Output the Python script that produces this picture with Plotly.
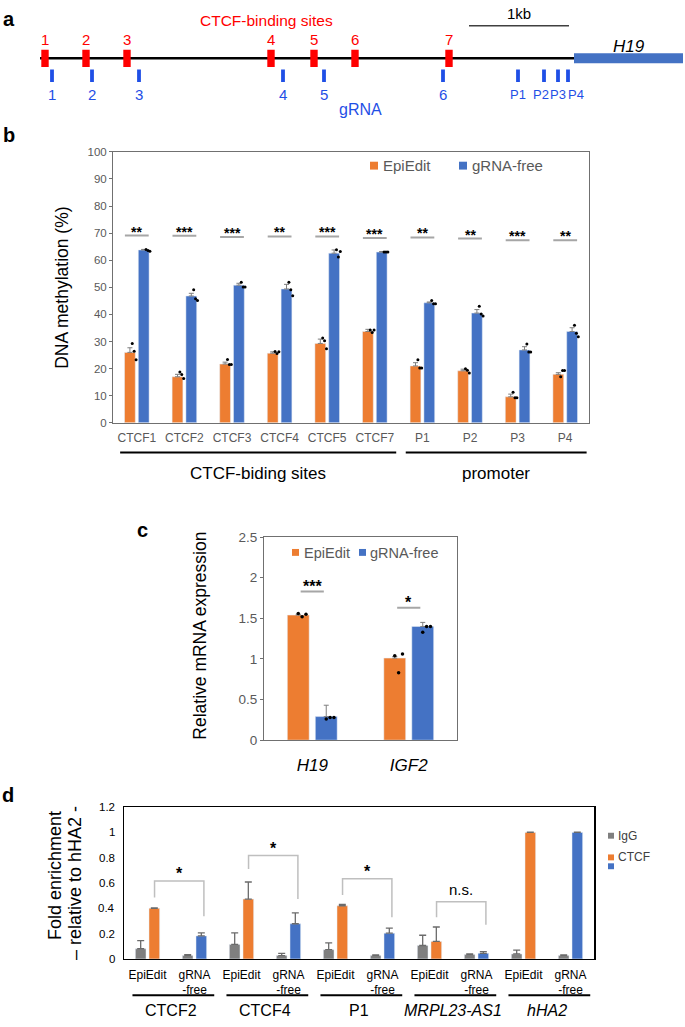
import plotly.graph_objects as go

W, H = 685, 1027
def PX(x): return x / W
def PY(y): return 1 - y / H

FONT = "Arial, 'Liberation Sans', sans-serif"
ORANGE = "#ED7D31"
BLUE = "#4472C4"
GRAY = "#7F7F7F"
TXTGRAY = "#595959"
RED = "#FF0000"
GBLUE = "#1F4FE6"
SIGGRAY = "#A6A6A6"

# ---------------- Panel a data (positions in kb along the locus) ----------------
ctcf_site_labels = ["1", "2", "3", "4", "5", "6", "7"]
ctcf_site_kb = [0.05, 0.46, 0.87, 2.31, 2.74, 3.15, 4.09]
grna_labels = ["1", "2", "3", "4", "5", "6", "P1", "P2", "P3", "P4"]
grna_kb = [0.12, 0.52, 0.99, 2.43, 2.84, 4.03, 4.78, 5.04, 5.18, 5.28]
h19_start_kb = 5.34
h19_end_kb = 6.43
scale_bar_start_kb = 4.29
scale_bar_len_kb = 1.0

# ---------------- Panel b data ----------------
meth_categories = ["CTCF1", "CTCF2", "CTCF3", "CTCF4", "CTCF5", "CTCF7", "P1", "P2", "P3", "P4"]
meth_epiedit = [26.0, 17.0, 21.7, 25.7, 29.3, 33.7, 21.0, 19.2, 9.6, 17.9]
meth_epiedit_err = [1.7, 0.9, 0.7, 0.5, 1.6, 0.8, 1.2, 0.6, 1.0, 0.6]
meth_grnafree = [63.8, 46.8, 50.8, 49.4, 62.6, 63.0, 44.3, 40.5, 26.9, 33.7]
meth_grnafree_err = [0.2, 1.0, 0.7, 1.7, 1.2, 0.2, 0.3, 1.3, 1.2, 1.4]
meth_epiedit_reps = [[29.3, 26.4, 23.3], [18.8, 17.8, 16.4], [23.4, 21.5, 21.5], [26.3, 25.6, 26.2],
                     [31.3, 30.3, 27.3], [34.3, 33.3, 34.3], [23.3, 20.2, 20.2], [20.0, 19.4, 18.4],
                     [11.3, 9.3, 9.3], [17.0, 19.3, 19.3]]
meth_grnafree_reps = [[64.0, 63.6, 63.3], [49.1, 45.8, 45.1], [51.9, 50.1, 50.1], [51.9, 49.1, 46.9],
                      [63.9, 61.2, 63.2], [63.0, 63.0, 63.0], [45.1, 43.9, 43.9], [43.0, 40.2, 39.4],
                      [29.1, 26.1, 26.1], [36.0, 33.1, 31.8]]
meth_sig = ["**", "***", "***", "**", "***", "***", "**", "**", "***", "**"]
meth_sig_y = [69.1, 69.0, 68.6, 68.8, 68.8, 68.2, 68.4, 68.0, 67.4, 67.4]
meth_groups = ["CTCF-biding sites", "promoter"]
meth_group_span = [(0, 5), (6, 9)]

# ---------------- Panel c data ----------------
expr_genes = ["H19", "IGF2"]
expr_epiedit = [1.54, 1.01]
expr_epiedit_err = [0.01, 0.02]
expr_grnafree = [0.29, 1.40]
expr_grnafree_err = [0.14, 0.05]
expr_epiedit_reps = [[1.56, 1.52, 1.55], [1.04, 0.83, 1.06]]
expr_grnafree_reps = [[0.26, 0.28, 0.28], [1.33, 1.40, 1.40]]
expr_sig = ["***", "*"]
expr_sig_y = [1.83, 1.63]

# ---------------- Panel d data ----------------
chip_targets = ["CTCF2", "CTCF4", "P1", "MRPL23-AS1", "hHA2"]
chip_target_italic = [False, False, False, True, True]
chip_conditions = ["EpiEdit", "gRNA<br>-free"]
chip_igg = [0.080, 0.026, 0.114, 0.026, 0.073, 0.026, 0.106, 0.034, 0.039, 0.026]
chip_igg_err = [0.065, 0.008, 0.091, 0.018, 0.054, 0.006, 0.081, 0.006, 0.031, 0.006]
chip_ctcf = [0.400, 0.182, 0.473, 0.278, 0.420, 0.203, 0.138, 0.044, 1.000, 1.000]
chip_ctcf_err = [0.004, 0.023, 0.135, 0.086, 0.010, 0.041, 0.114, 0.013, 0.003, 0.003]
chip_sig = ["*", "*", "*", "n.s."]
chip_sig_top = [0.616, 0.818, 0.634, 0.452]
chip_sig_left_bottom = [0.486, 0.710, 0.506, 0.330]
chip_sig_right_bottom = [0.338, 0.473, 0.330, 0.270]
chip_ymax = 1.2
chip_yticks = [0, 0.2, 0.4, 0.6, 0.8, 1, 1.2]
chip_yticklabels = ["0", "0.2", "0.4", "0.6", "0.8", "1", "1.2"]

# ---------------- figure ----------------
fig = go.Figure()
BARGAP, GROUPGAP = 0.42, 0.22
slot = (1 - BARGAP) / 2
off = slot / 2  # centre offset of each bar in a pair
err_style = dict(type="data", symmetric=False, color=GRAY, thickness=1, width=2.5)

def reps_xy(reps, centre_shift, dxs):
    xs, ys = [], []
    for i, r in enumerate(reps):
        for k, v in enumerate(r):
            xs.append(i + centre_shift + dxs[k])
            ys.append(v)
    return xs, ys

# ---- b ----
nb = len(meth_categories)
ib = list(range(nb))
fig.add_bar(x=ib, y=meth_epiedit, marker_color=ORANGE, name="EpiEdit", xaxis="x", yaxis="y",
            error_y=dict(array=meth_epiedit_err, arrayminus=[0] * nb, **err_style))
fig.add_bar(x=ib, y=meth_grnafree, marker_color=BLUE, name="gRNA-free", xaxis="x", yaxis="y",
            error_y=dict(array=meth_grnafree_err, arrayminus=[0] * nb, **err_style))
dxb = [0.05, 0.09, 0.13]
for reps, sh in ((meth_epiedit_reps, -off), (meth_grnafree_reps, off)):
    xs, ys = reps_xy(reps, sh, dxb)
    fig.add_scatter(x=xs, y=ys, mode="markers", marker=dict(color="black", size=3),
                    xaxis="x", yaxis="y", showlegend=False)

# ---- c ----
nc = len(expr_genes)
ic = list(range(nc))
fig.add_bar(x=ic, y=expr_epiedit, marker_color=ORANGE, xaxis="x2", yaxis="y2",
            error_y=dict(array=expr_epiedit_err, arrayminus=[0] * nc, **err_style))
fig.add_bar(x=ic, y=expr_grnafree, marker_color=BLUE, xaxis="x2", yaxis="y2",
            error_y=dict(array=expr_grnafree_err, arrayminus=[0] * nc, **err_style))
dxc = [0.0, 0.04, 0.08]
for reps, sh in ((expr_epiedit_reps, -off), (expr_grnafree_reps, off)):
    xs, ys = reps_xy(reps, sh, dxc)
    fig.add_scatter(x=xs, y=ys, mode="markers", marker=dict(color="black", size=3.5),
                    xaxis="x2", yaxis="y2", showlegend=False)

# ---- d ----
nd = len(chip_igg)
idd = list(range(nd))
chip_colors = [ORANGE if i % 2 == 0 else BLUE for i in idd]
err_d = dict(type="data", symmetric=False, color="#6b6b6b", thickness=1.3, width=3.5)
fig.add_bar(x=idd, y=chip_igg, marker_color=GRAY, xaxis="x3", yaxis="y3",
            error_y=dict(array=chip_igg_err, arrayminus=[0] * nd, **err_d))
fig.add_bar(x=idd, y=chip_ctcf, marker_color=chip_colors, xaxis="x3", yaxis="y3",
            error_y=dict(array=chip_ctcf_err, arrayminus=[0] * nd, **err_d))

shapes = []
ann = []

def text(x, y, s, size, color="black", xref="paper", yref="paper", xanchor="center",
         yanchor="middle", angle=0, yshift=0, bold=False):
    ann.append(dict(x=x, y=y, xref=xref, yref=yref, text=(f"<b>{s}</b>" if bold else s),
                    showarrow=False, xanchor=xanchor, yanchor=yanchor, textangle=angle,
                    yshift=yshift, font=dict(family=FONT, size=size, color=color)))

# ---- panel a drawing ----
shapes.append(dict(type="line", xref="x4", yref="y4", x0=0, x1=h19_start_kb, y0=52, y1=52,
                   line=dict(color="black", width=2.5)))
shapes.append(dict(type="rect", xref="x4", yref="y4", x0=h19_start_kb, x1=h19_end_kb, y0=47, y1=57,
                   fillcolor=BLUE, line=dict(width=0)))
for lab, kb in zip(ctcf_site_labels, ctcf_site_kb):
    shapes.append(dict(type="rect", xref="x4", yref="y4", x0=kb - 0.037, x1=kb + 0.037, y0=43.5, y1=61,
                       fillcolor=RED, line=dict(width=0)))
    text(kb, 33, lab, 15, RED, "x4", "y4")
grna_label_shift = [0, 0, 0, 0, 0, 0, 0, -0.03, 0, 0.08]
for lab, kb, s in zip(grna_labels, grna_kb, grna_label_shift):
    shapes.append(dict(type="rect", xref="x4", yref="y4", x0=kb - 0.019, x1=kb + 0.019, y0=63.5, y1=76,
                       fillcolor=GBLUE, line=dict(width=0)))
    text(kb + s, 88.5, lab, 13 if lab.startswith("P") else 15, GBLUE, "x4", "y4")
text(3.2, 104, "gRNA", 16, GBLUE, "x4", "y4")
text(2.26, 14, "CTCF-binding sites", 15.5, RED, "x4", "y4")
shapes.append(dict(type="line", xref="x4", yref="y4", x0=scale_bar_start_kb,
                   x1=scale_bar_start_kb + scale_bar_len_kb, y0=19, y1=19,
                   line=dict(color="#404040", width=1.5)))
text(scale_bar_start_kb + scale_bar_len_kb / 2, 7, "1kb", 15, "black", "x4", "y4")
text((h19_start_kb + h19_end_kb) / 2, 40, "<i>H19</i>", 17, "black", "x4", "y4")

# ---- panel b annotations ----
for i, (s, y) in enumerate(zip(meth_sig, meth_sig_y)):
    shapes.append(dict(type="line", xref="x", yref="y", x0=i - 0.25, x1=i + 0.25, y0=y, y1=y,
                       line=dict(color=SIGGRAY, width=2)))
    text(i, y, s, 14, "black", "x", "y", yshift=4, bold=True)
for (a, b), name in zip(meth_group_span, meth_groups):
    shapes.append(dict(type="line", xref="x", yref="paper", x0=a - 0.35, x1=b + 0.45,
                       y0=PY(452), y1=PY(452), line=dict(color="black", width=2)))
    text((a - 0.35 + b + 0.45) / 2, PY(473), name, 17, "black", "x", "paper")
text(PX(62), PY(285), "DNA methylation (%)", 17.5, "black", angle=-90)
# legend b
shapes.append(dict(type="rect", xref="paper", yref="paper", x0=PX(370), x1=PX(378), y0=PY(165), y1=PY(157),
                   fillcolor=ORANGE, line=dict(width=0)))
text(PX(381), PY(161), "EpiEdit", 15, TXTGRAY, xanchor="left")
shapes.append(dict(type="rect", xref="paper", yref="paper", x0=PX(459), x1=PX(467), y0=PY(165), y1=PY(157),
                   fillcolor=BLUE, line=dict(width=0)))
text(PX(470), PY(161), "gRNA-free", 15, TXTGRAY, xanchor="left")

# ---- panel c annotations ----
for i, (s, y) in enumerate(zip(expr_sig, expr_sig_y)):
    shapes.append(dict(type="line", xref="x2", yref="y2", x0=i - 0.12, x1=i + 0.12, y0=y, y1=y,
                       line=dict(color=SIGGRAY, width=2)))
    text(i, y, s, 16, "black", "x2", "y2", yshift=5, bold=True)
text(PX(200), PY(638), "Relative mRNA expression", 17.5, "black", angle=-90)
shapes.append(dict(type="rect", xref="paper", yref="paper", x0=PX(292), x1=PX(299), y0=PY(557), y1=PY(550),
                   fillcolor=ORANGE, line=dict(width=0)))
text(PX(302), PY(554), "EpiEdit", 14.5, TXTGRAY, xanchor="left")
shapes.append(dict(type="rect", xref="paper", yref="paper", x0=PX(359), x1=PX(366), y0=PY(557), y1=PY(550),
                   fillcolor=BLUE, line=dict(width=0)))
text(PX(368), PY(554), "gRNA-free", 14.5, TXTGRAY, xanchor="left")

# ---- panel d annotations ----
for k, s in enumerate(chip_sig):
    xl, xr = 2 * k + 0.15, 2 * k + 1.2
    shapes.append(dict(type="path", xref="x3", yref="y3",
                       path=f"M {xl} {chip_sig_left_bottom[k]} L {xl} {chip_sig_top[k]} "
                            f"L {xr} {chip_sig_top[k]} L {xr} {chip_sig_right_bottom[k]}",
                       line=dict(color="#BFBFBF", width=1.5)))
    if s == "n.s.":
        text((xl + xr) / 2, chip_sig_top[k], s, 15, "black", "x3", "y3", yshift=12)
    else:
        text((xl + xr) / 2, chip_sig_top[k], s, 16, "black", "x3", "y3", yshift=7, bold=True)
for k, (t, it) in enumerate(zip(chip_targets, chip_target_italic)):
    x0, x1 = 2 * k - 0.32, 2 * k + 1.42
    shapes.append(dict(type="line", xref="x3", yref="paper", x0=x0, x1=x1, y0=PY(1003), y1=PY(1003),
                       line=dict(color="black", width=2)))
    text(2 * k + 0.5, PY(1018), f"<i>{t}</i>" if it else t, 16, "black", "x3", "paper")
# y tick labels of panel d, placed along the y3 axis domain
for v, lab in zip(chip_yticks, chip_yticklabels):
    if v >= chip_ymax:
        # top label placed on the page at the top edge of the panel-d frame
        text(PX(117), PY(812), lab, 11.5, "black", "paper", "paper", xanchor="right")
    else:
        text(PX(117), v / chip_ymax, lab, 11.5, "black", "paper", "y3 domain", xanchor="right")
text(PX(55), PY(882), "Fold enrichment", 18, "black", angle=-90)
text(PX(75), PY(889), "– relative to hHA2 -", 18, "black", angle=-90)
shapes.append(dict(type="rect", xref="paper", yref="paper", x0=PX(608), x1=PX(614), y0=PY(844), y1=PY(838),
                   fillcolor=GRAY, line=dict(width=0)))
text(PX(616), PY(841), "IgG", 12, "#404040", xanchor="left")
shapes.append(dict(type="rect", xref="paper", yref="paper", x0=PX(608), x1=PX(614), y0=PY(866), y1=PY(860),
                   fillcolor=ORANGE, line=dict(width=0)))
shapes.append(dict(type="rect", xref="paper", yref="paper", x0=PX(608), x1=PX(614), y0=PY(875), y1=PY(869),
                   fillcolor=BLUE, line=dict(width=0)))
text(PX(616), PY(863), "CTCF", 12, "#404040", xanchor="left")

# panel letters
text(PX(9), PY(12), "a", 20, bold=True)
text(PX(9), PY(130), "b", 20, bold=True)
text(PX(142), PY(531), "c", 20, bold=True)
text(PX(8), PY(800), "d", 20, bold=True)

frame_b = dict(showline=True, mirror=True, linecolor="#707070", linewidth=1, showgrid=False, zeroline=False)
fig.update_layout(
    width=W, height=H, margin=dict(l=0, r=0, t=0, b=0),
    paper_bgcolor="white", plot_bgcolor="white", showlegend=False,
    barmode="group", bargap=BARGAP, bargroupgap=GROUPGAP,
    font=dict(family=FONT),
    xaxis=dict(domain=[PX(113), PX(589)], range=[-0.5, nb - 0.5], tickvals=ib, ticktext=meth_categories,
               ticks="", tickfont=dict(size=12, color=TXTGRAY), ticklabelstandoff=4, anchor="y", **frame_b),
    yaxis=dict(domain=[PY(422), PY(147)], range=[0, 100], dtick=10, ticks="outside", ticklen=3,
               tickcolor="#707070", tickfont=dict(size=11.5, color=TXTGRAY), anchor="x", **frame_b),
    xaxis2=dict(domain=[PX(264), PX(457)], range=[-0.5, nc - 0.5], tickvals=ic,
                ticktext=[f"<i>{g}</i>" for g in expr_genes], ticks="", ticklabelstandoff=9,
                tickfont=dict(size=17, color="black"), anchor="y2", **frame_b),
    yaxis2=dict(domain=[PY(744), PY(538)], range=[0, 2.5], dtick=0.5, ticks="outside", ticklen=3,
                tickcolor="#707070", tickfont=dict(size=13.5, color=TXTGRAY), anchor="x2", **frame_b),
    xaxis3=dict(domain=[PX(124), PX(594)], range=[-0.5, nd - 0.5], tickvals=idd,
                ticktext=[chip_conditions[i % 2] for i in idd], ticks="", ticklabelstandoff=4,
                tickfont=dict(size=12, color="black"), anchor="y3",
                showline=True, mirror=True, linecolor="black", linewidth=1.5, showgrid=False, zeroline=False),
    yaxis3=dict(domain=[PY(966), PY(812)], range=[0, chip_ymax], showticklabels=False, ticks="",
                anchor="x3", showline=True, mirror=True, linecolor="black", linewidth=1.5,
                showgrid=False, zeroline=False),
    xaxis4=dict(domain=[0, 1], range=[-0.40, 6.45], visible=False, anchor="y4", fixedrange=True),
    yaxis4=dict(domain=[PY(115), 1], range=[115, 0], visible=False, anchor="x4", fixedrange=True),
    shapes=shapes, annotations=ann,
)

fig.write_html("out.html", config={"displayModeBar": False, "staticPlot": True},
               post_script="document.body.style.margin='0';document.body.style.overflow='hidden';")
